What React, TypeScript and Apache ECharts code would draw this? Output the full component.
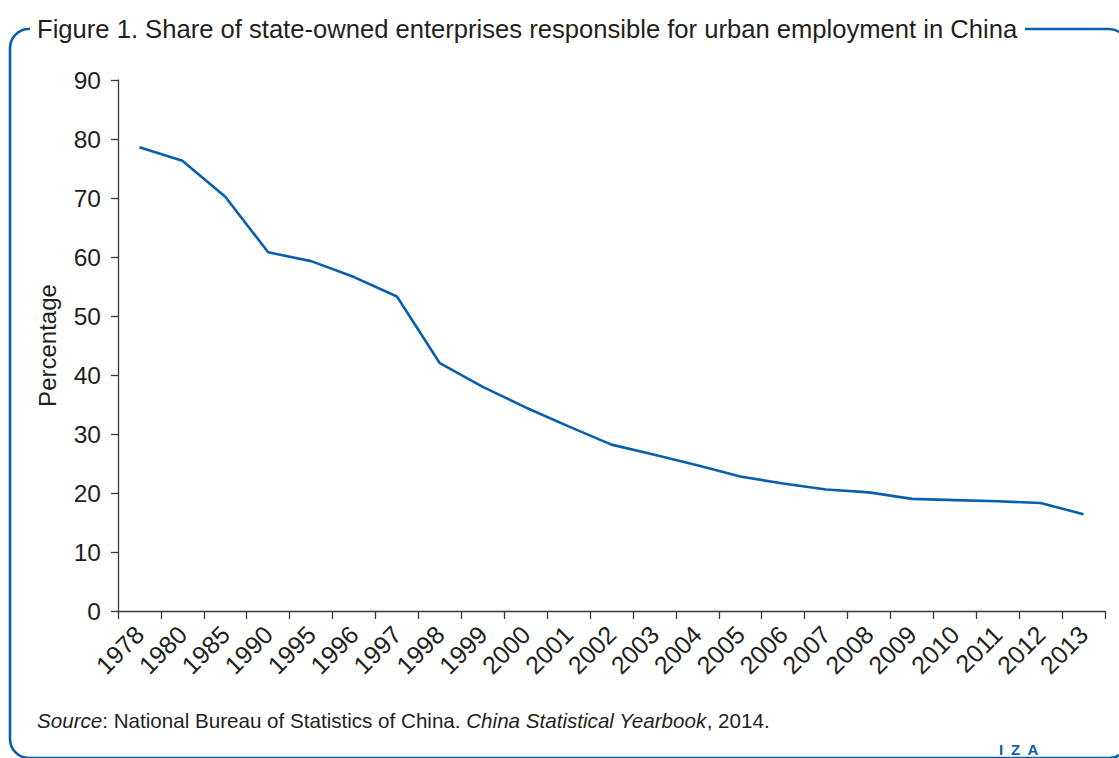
import React, { useEffect, useRef } from "react";
import * as echarts from "echarts";

const years = ["1978","1980","1985","1990","1995","1996","1997","1998","1999","2000","2001","2002","2003","2004","2005","2006","2007","2008","2009","2010","2011","2012","2013"];
const soeShare = [78.6, 76.3, 70.2, 60.8, 59.3, 56.6, 53.3, 42.0, 38.0, 34.5, 31.3, 28.2, 26.5, 24.7, 22.8, 21.6, 20.6, 20.1, 19.0, 18.8, 18.6, 18.3, 16.4];
const yMin = 0;
const yMax = 90;
const yInterval = 10;
const titleText = "Figure 1. Share of state-owned enterprises responsible for urban employment in China";
const yAxisName = "Percentage";

const BLUE = "#0860ad";
const TEXT = "#231f20";
const AXIS = "#3a3a3a";
const FONT = "Liberation Sans, Arial, sans-serif";

export default function App() {
  const ref = useRef<HTMLDivElement>(null);
  useEffect(() => {
    if (!ref.current) return;
    const chart = echarts.init(ref.current, null, { renderer: "svg" });
    chart.setOption({
      animation: false,
      backgroundColor: "#ffffff",
      textStyle: { fontFamily: FONT, color: TEXT },
      grid: { left: 118, right: 14, top: 80, bottom: 147, containLabel: false },
      xAxis: {
        type: "category",
        data: years,
        boundaryGap: true,
        axisLine: { lineStyle: { color: AXIS, width: 1.3 } },
        axisTick: { show: true, length: 8, inside: false, lineStyle: { color: AXIS, width: 1.3 } },
        axisLabel: {
          show: true,
          interval: 0,
          rotate: 45,
          margin: 19,
          fontSize: 25,
          color: TEXT,
          fontFamily: FONT,
        },
      },
      yAxis: {
        type: "value",
        min: yMin,
        max: yMax,
        interval: yInterval,
        name: yAxisName,
        nameLocation: "middle",
        nameGap: 59,
        nameRotate: 90,
        nameTextStyle: { fontSize: 24, color: TEXT, fontFamily: FONT },
        axisLine: { show: true, lineStyle: { color: AXIS, width: 1.3 } },
        axisTick: { show: true, length: 7, inside: false, lineStyle: { color: AXIS, width: 1.3 } },
        axisLabel: { fontSize: 24.5, color: TEXT, margin: 17, fontFamily: FONT },
        splitLine: { show: false },
      },
      series: [
        {
          type: "line",
          data: soeShare,
          symbol: "none",
          lineStyle: { color: BLUE, width: 2.6 },
          itemStyle: { color: BLUE },
        },
      ],
      graphic: [
        {
          type: "rect",
          z: 1,
          silent: true,
          shape: { x: 10, y: 29, width: 1118, height: 729, r: 19 },
          style: { fill: "none", stroke: BLUE, lineWidth: 2.6 },
        },
        {
          type: "rect",
          z: 2,
          silent: true,
          shape: { x: 30, y: 10, width: 995, height: 36 },
          style: { fill: "#ffffff" },
        },
        {
          type: "text",
          z: 3,
          x: 37,
          y: 29,
          style: {
            text: titleText,
            fontSize: 25.6,
            fontFamily: FONT,
            fill: TEXT,
            verticalAlign: "middle",
            align: "left",
          },
        },
        {
          type: "text",
          z: 3,
          x: 37,
          y: 720,
          style: {
            text: "{i|Source}: National Bureau of Statistics of China. {i|China Statistical Yearbook}, 2014.",
            fontSize: 20.6,
            fontFamily: FONT,
            fill: TEXT,
            verticalAlign: "middle",
            rich: {
              i: { fontStyle: "italic", fontSize: 20.6, fontFamily: FONT, fill: TEXT },
            },
          },
        },
        {
          type: "text",
          z: 3,
          x: 999,
          y: 749,
          style: { text: "I", fontSize: 15, fontWeight: "bold", fontFamily: FONT, fill: BLUE, verticalAlign: "middle" },
        },
        {
          type: "text",
          z: 3,
          x: 1011,
          y: 749,
          style: { text: "Z", fontSize: 15, fontWeight: "bold", fontFamily: FONT, fill: BLUE, verticalAlign: "middle" },
        },
        {
          type: "text",
          z: 3,
          x: 1027.5,
          y: 749,
          style: { text: "A", fontSize: 15, fontWeight: "bold", fontFamily: FONT, fill: BLUE, verticalAlign: "middle" },
        },
      ],
    });
    return () => chart.dispose();
  }, []);
  return (
    <div
      ref={ref}
      style={{ position: "absolute", left: 0, top: 0, width: 1119, height: 758 }}
    />
  );
}
